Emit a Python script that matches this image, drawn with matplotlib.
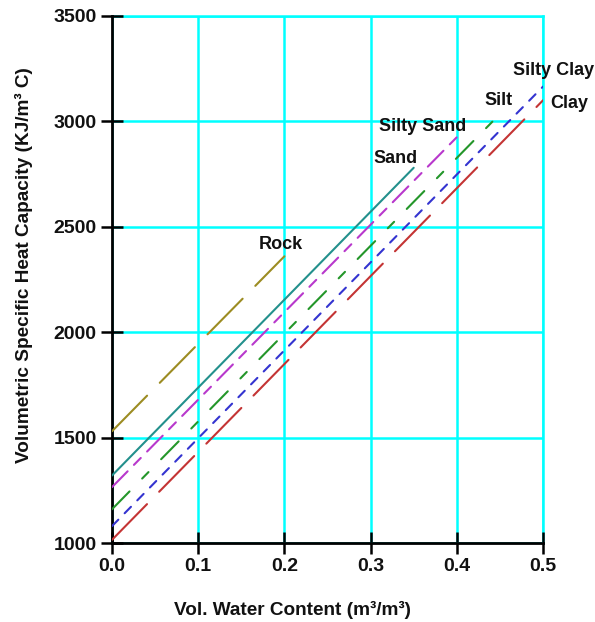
import matplotlib
matplotlib.use("Agg")
import matplotlib.pyplot as plt

plt.rcParams["font.family"] = ["Liberation Sans", "DejaVu Sans"]
plt.rcParams["lines.scale_dashes"] = False

# soil types: water content range (0 .. porosity) and heat capacity at both ends
materials = ["Rock", "Sand", "Silty Sand", "Silt", "Silty Clay", "Clay"]
water_start = [0.0, 0.0, 0.0, 0.0, 0.0, 0.0]
water_end = [0.2, 0.35, 0.4, 0.45, 0.5, 0.5]
heat_start = [1530, 1320, 1265, 1160, 1080, 1015]
heat_end = [2360, 2780, 2925, 3035, 3165, 3100]

# label anchor points (data coords)
label_x = [0.196, 0.329, 0.36, 0.448, 0.512, 0.53]
label_y = [2418, 2826, 2978, 3100, 3240, 3083]

x_ticks = [0.0, 0.1, 0.2, 0.3, 0.4, 0.5]
y_ticks = [1000, 1500, 2000, 2500, 3000, 3500]

colors = ["#9c8c22", "#23908c", "#b838cc", "#24962a", "#3434d0", "#c43434"]
dashes = [(36, 13), None, (16, 6.5, 7, 6.5), (18, 13, 6.5, 13), (6.5, 6.5), (36, 12.5)]

fig = plt.figure(figsize=(5.95, 6.22), dpi=100)
ax = fig.add_axes([112 / 595, 1 - 543 / 622, 431 / 595, 527 / 622])

for i, name in enumerate(materials):
    line, = ax.plot([water_start[i], water_end[i]], [heat_start[i], heat_end[i]],
                    color=colors[i], lw=1.5, solid_capstyle="round",
                    dash_capstyle="round", zorder=3)
    if dashes[i] is not None:
        line.set_dashes(dashes[i])
    ax.text(label_x[i], label_y[i], name, ha="center", va="center",
            fontsize=13, fontweight="bold", color="#111111", zorder=4)

ax.set_xlim(0, 0.5)
ax.set_ylim(1000, 3500)
ax.set_xticks(x_ticks)
ax.set_xticklabels([f"{v:.1f}" for v in x_ticks])
ax.set_yticks(y_ticks)
ax.grid(True, color="#00ffff", lw=1.8)
ax.set_axisbelow(True)

for side in ["left", "bottom"]:
    ax.spines[side].set_color("black")
    ax.spines[side].set_linewidth(2)
for side in ["top", "right"]:
    ax.spines[side].set_color("#00ffff")
    ax.spines[side].set_linewidth(1.8)
    ax.spines[side].set_zorder(0.4)

ax.tick_params(direction="inout", length=16, width=1.8, color="black",
               labelsize=14, pad=3)
for lab in ax.get_xticklabels() + ax.get_yticklabels():
    lab.set_fontweight("bold")
    lab.set_color("#111111")

ax.set_xlabel("Vol. Water Content (m³/m³)", fontsize=13.7, fontweight="bold",
              color="#111111", va="center")
ax.xaxis.set_label_coords(0.418, -0.127)
ax.set_ylabel("Volumetric Specific Heat Capacity (KJ/m³ C)", fontsize=13.7,
              fontweight="bold", color="#111111", va="center")
ax.yaxis.set_label_coords(-0.204, 0.527)

fig.savefig("out.png", dpi=100)
